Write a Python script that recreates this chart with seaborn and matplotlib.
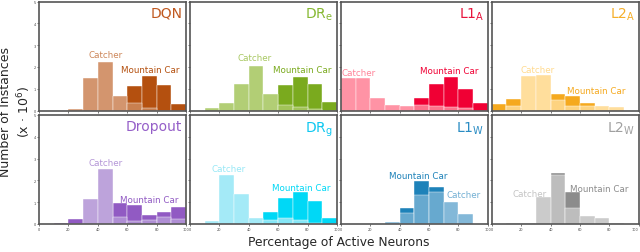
import numpy as np
import matplotlib
matplotlib.use("Agg")
import matplotlib.pyplot as plt
import seaborn as sns

# bin edges shared by all panels (percentage of active neurons)
bin_edges = [0, 10, 20, 30, 40, 50, 60, 70, 80, 90, 100]
bin_centers = [5, 15, 25, 35, 45, 55, 65, 75, 85, 95]

# number of instances (x 10^6) per bin
dqn_catcher = [0.0, 0.0, 0.05, 1.48, 2.24, 0.66, 0.33, 0.10, 0.0, 0.0]
dqn_mountain = [0.0, 0.0, 0.0, 0.0, 0.0, 0.0, 1.14, 1.59, 1.18, 0.32]

dre_catcher = [0.0, 0.10, 0.33, 1.23, 2.03, 0.77, 0.25, 0.14, 0.05, 0.0]
dre_mountain = [0.0, 0.0, 0.0, 0.0, 0.0, 0.0, 1.15, 1.53, 1.21, 0.41]

l1a_catcher = [1.47, 1.49, 0.56, 0.27, 0.21, 0.25, 0.22, 0.18, 0.12, 0.0]
l1a_mountain = [0.0, 0.0, 0.0, 0.0, 0.0, 0.57, 1.24, 1.55, 0.98, 0.36]

l2a_catcher = [0.0, 0.20, 1.59, 1.62, 0.50, 0.23, 0.20, 0.20, 0.14, 0.0]
l2a_mountain = [0.32, 0.52, 0.0, 0.0, 0.76, 0.68, 0.35, 0.0, 0.0, 0.0]

dropout_catcher = [0.0, 0.0, 0.0, 1.16, 2.53, 0.33, 0.15, 0.18, 0.33, 0.23]
dropout_mountain = [0.0, 0.06, 0.24, 0.0, 0.0, 0.94, 0.86, 0.41, 0.55, 0.79]

drg_catcher = [0.0, 0.12, 2.23, 1.38, 0.26, 0.20, 0.27, 0.17, 0.05, 0.0]
drg_mountain = [0.0, 0.0, 0.0, 0.0, 0.0, 0.55, 1.20, 1.47, 1.05, 0.29]

l1w_catcher = [0.0, 0.0, 0.0, 0.10, 0.50, 1.33, 1.47, 1.00, 0.44, 0.0]
l1w_mountain = [0.0, 0.0, 0.0, 0.0, 0.73, 1.95, 1.71, 0.0, 0.0, 0.0]

l2w_catcher = [0.0, 0.03, 0.03, 1.23, 2.26, 0.71, 0.38, 0.26, 0.03, 0.0]
l2w_mountain = [0.0, 0.0, 0.0, 0.0, 2.35, 1.45, 0.0, 0.0, 0.0, 0.0]

titles = ["DQN", "DR$_{\\mathrm{e}}$", "L1$_{\\mathrm{A}}$", "L2$_{\\mathrm{A}}$",
          "Dropout", "DR$_{\\mathrm{g}}$", "L1$_{\\mathrm{W}}$", "L2$_{\\mathrm{W}}$"]
catcher_colors = ["#CD875A", "#A8C862", "#FF8499", "#FFDA8E",
                  "#B496D7", "#98E8F6", "#72AFD3", "#C4C4C4"]
mountain_colors = ["#B4500F", "#7AAA1E", "#F00034", "#F5A91E",
                   "#915AC3", "#00D8F6", "#1E82B9", "#8C8C8C"]
title_colors = ["#C0581F", "#86B832", "#E8143C", "#F5AF2A",
                "#955FC8", "#10C8F0", "#2A8CC3", "#A0A0A0"]

# label anchor points (x in %, y in 10^6) for "Catcher" / "Mountain Car"
catcher_xy = [(45, 2.56), (44, 2.45), (12, 1.75), (31, 1.90),
              (45, 2.80), (26.5, 2.53), (83.3, 1.33), (25.5, 1.40)]
mountain_xy = [(76, 1.90), (76.6, 1.86), (74, 1.83), (71.4, 0.94),
               (75, 1.12), (75.5, 1.66), (52.8, 2.20), (73.2, 1.64)]

catcher_data = [dqn_catcher, dre_catcher, l1a_catcher, l2a_catcher,
                dropout_catcher, drg_catcher, l1w_catcher, l2w_catcher]
mountain_data = [dqn_mountain, dre_mountain, l1a_mountain, l2a_mountain,
                 dropout_mountain, drg_mountain, l1w_mountain, l2w_mountain]

sns.set_style("ticks")
plt.rcParams["font.family"] = ["DejaVu Sans"]

fig, axes = plt.subplots(2, 4, figsize=(6.4, 2.53), dpi=100, sharex=True, sharey=True)
fig.subplots_adjust(left=0.061, right=0.998, top=0.990, bottom=0.111,
                    wspace=0.027, hspace=0.04)

for i, ax in enumerate(axes.flat):
    # mountain car underneath, catcher over it (semi-opaque)
    sns.histplot(x=bin_centers, weights=mountain_data[i], bins=bin_edges, ax=ax,
                 color=mountain_colors[i], alpha=1.0, edgecolor="white", linewidth=0.3)
    sns.histplot(x=bin_centers, weights=catcher_data[i], bins=bin_edges, ax=ax,
                 color=catcher_colors[i], alpha=0.88, edgecolor="white", linewidth=0.3)
    ax.set_xlim(0, 100)
    ax.set_ylim(0, 5)
    ax.set_xlabel("")
    ax.set_ylabel("")
    ax.set_xticks([0, 20, 40, 60, 80, 100])
    ax.set_yticks([0, 1, 2, 3, 4, 5])
    ax.tick_params(labelsize=2.5, length=1.5, width=0.5, pad=1, colors="#444444")
    for sp in ax.spines.values():
        sp.set_color("#555555")
        sp.set_linewidth(1.2)

    ax.text(0.975, 0.96, titles[i], transform=ax.transAxes, ha="right", va="top",
            fontsize=10, color=title_colors[i])
    ax.text(catcher_xy[i][0], catcher_xy[i][1], "Catcher", ha="center", va="center",
            fontsize=6.3, color=catcher_colors[i])
    ax.text(mountain_xy[i][0], mountain_xy[i][1], "Mountain Car", ha="center", va="center",
            fontsize=6.3, color=mountain_colors[i])

# keep the last "100" inside the figure
last_labels = axes[1, 3].get_xticklabels()
last_labels[-1].set_horizontalalignment("right")

fig.text(0.025, 0.557, "Number of Instances\n(x \u00b7 10$^6$)", rotation=90,
         ha="center", va="center", fontsize=9, multialignment="center",
         linespacing=1.2)
fig.text(0.529, 0.04, "Percentage of Active Neurons", ha="center", va="center",
         fontsize=8.8)

fig.savefig("out.png", dpi=100)
